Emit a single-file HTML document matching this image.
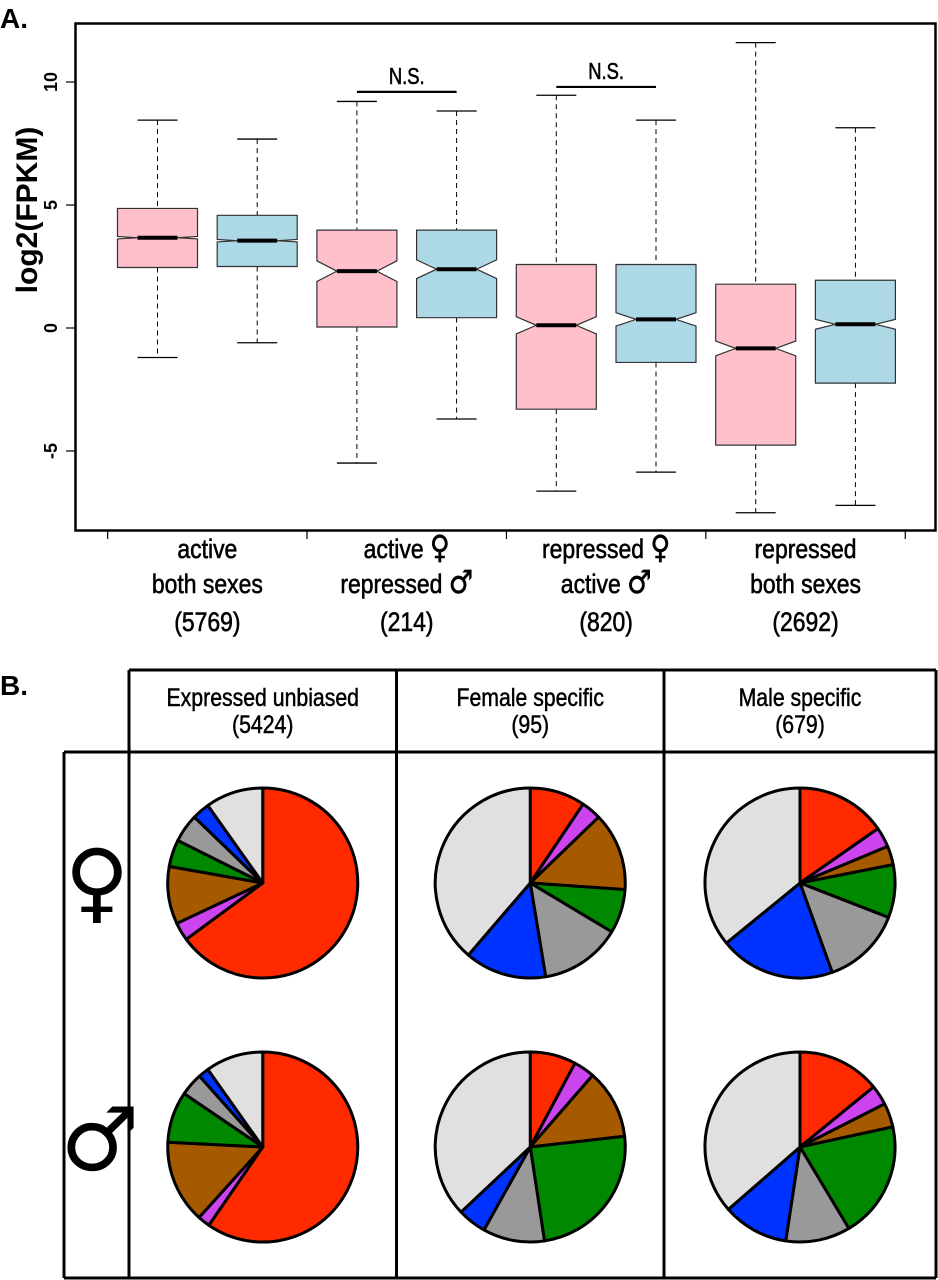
<!DOCTYPE html>
<html><head><meta charset="utf-8">
<style>
html,body{margin:0;padding:0;background:#fff;}
body{width:938px;height:1280px;overflow:hidden;position:relative;font-family:"Liberation Sans",sans-serif;}
svg{position:absolute;left:0;top:0;}
</style></head>
<body>
<svg id="chart" width="938" height="1280" viewBox="0 0 938 1280">
  <text x="0" y="28" font-family="Liberation Sans" font-weight="bold" font-size="28">A.</text>
  <text x="0" y="695" font-family="Liberation Sans" font-weight="bold" font-size="28">B.</text>
  <g id="boxplot"></g>
  <g id="table"></g>
</svg>
<script>
// ---- Boxplot data ----
const boxGroups = ["active|both sexes", "active ♀|repressed ♂", "repressed ♀|active ♂", "repressed|both sexes"];
const groupCounts = ["(5769)", "(214)", "(820)", "(2692)"];
const boxSex = ["female","male","female","male","female","male","female","male"];
const whiskerHigh = [8.45, 7.68, 9.21, 8.82, 9.46, 8.45, 11.6, 8.14];
const q3Values = [4.86, 4.58, 3.98, 3.98, 2.58, 2.58, 1.78, 1.94];
const medianValues = [3.67, 3.55, 2.31, 2.39, 0.11, 0.35, -0.83, 0.15];
const q1Values = [2.46, 2.5, 0.04, 0.42, -3.3, -1.4, -4.76, -2.24];
const whiskerLow = [-1.2, -0.6, -5.49, -3.7, -6.63, -5.86, -7.51, -7.21];
const notchHalf = [0.05, 0.05, 0.42, 0.38, 0.35, 0.27, 0.3, 0.2];
const yTicks = [-5, 0, 5, 10];
const sigPairs = [[3,4],[5,6]];
const sigLabels = ["N.S.","N.S."];
const sigLevels = [9.6, 9.8];

// ---- Pie data (fractions, clockwise from 12 o'clock) ----
const pieCategories = ["c1","c2","c3","c4","c5","c6","c7"];
const pieColumns = ["Expressed unbiased|(5424)", "Female specific|(95)", "Male specific|(679)"];
const pieFemaleUnbiased = [.649,.031,.098,.046,.048,.030,.098];
const pieFemaleFSpecific = [.094,.034,.133,.075,.138,.139,.387];
const pieFemaleMSpecific = [.153,.034,.032,.090,.136,.196,.359];
const pieMaleUnbiased = [.596,.021,.141,.087,.039,.018,.098];
const pieMaleFSpecific = [.078,.036,.118,.244,.105,.049,.370];
const pieMaleMSpecific = [.141,.034,.041,.198,.110,.112,.364];

const NS = "http://www.w3.org/2000/svg";
function mk(tag, attrs, parent){const e=document.createElementNS(NS,tag);for(const k in attrs)e.setAttribute(k,attrs[k]);parent.appendChild(e);return e;}

const yScale = v => 328 - 24.6*v;
const xScale = p => 57.8 + 99.7*p;
const bp = document.getElementById('boxplot');

let fr = mk('rect',{x:75.5,y:23.5,width:860,height:507,fill:'none',stroke:'#000','stroke-width':2.5},bp);



yTicks.forEach(t=>{
  const y=yScale(t);
  let l=mk('line',{x1:66,x2:75.5,y1:y,y2:y,stroke:'#000','stroke-width':1.2},bp);
  
  
  let tx=mk('text',{x:0,y:0,transform:`translate(57,${y}) rotate(-90)`,'text-anchor':'middle','font-family':'Liberation Sans','font-size':18,'font-weight':'bold'},bp);
  tx.textContent=t;
  
  
});
let yl=mk('text',{x:0,y:0,transform:'translate(37,210) rotate(-90)','text-anchor':'middle','font-family':'Liberation Sans','font-size':30,'font-weight':'bold'},bp);
yl.textContent='log2(FPKM)';



for(let i=0;i<=boxGroups.length;i++){
  const x=xScale(0.5+2*i);
  let l=mk('line',{x1:x,x2:x,y1:530,y2:539,stroke:'#000','stroke-width':1.2},bp);
  
  
}
const txtStyle={'font-size':27,stroke:'#000','stroke-width':0.6};
boxGroups.forEach((g,i)=>{
  const cx=xScale(1.5+2*i);
  g.split('|').forEach((ln,j)=>{
    let t=mk('text',Object.assign({x:0,y:0,transform:`translate(${cx},${558+j*35}) scale(0.85,1)`,'text-anchor':'middle'},txtStyle),bp);
    ln.split(/([♀♂])/).forEach(p=>{if(!p)return;const s=mk('tspan',{},t);s.textContent=p;if(p==='♀'||p==='♂'){s.setAttribute('font-family','DejaVu Sans');s.setAttribute('font-size','32');s.setAttribute('font-weight','bold');}});
    
    
  });
  let c=mk('text',Object.assign({x:0,y:0,transform:`translate(${cx},631) scale(0.85,1)`,'text-anchor':'middle'},txtStyle),bp);
  c.textContent=groupCounts[i];
  
  
});

const bw=80;
whiskerHigh.forEach((wh,i)=>{
  const cx=xScale(i+1);
  const g=mk('g',{},bp);
  
  
  const yH=yScale(wh), yL=yScale(whiskerLow[i]), y3=yScale(q3Values[i]), y1=yScale(q1Values[i]), ym=yScale(medianValues[i]);
  const nt=yScale(medianValues[i]+notchHalf[i]), nb=yScale(medianValues[i]-notchHalf[i]);
  mk('line',{x1:cx,x2:cx,y1:yH,y2:y3,stroke:'#000','stroke-width':1,'stroke-dasharray':'5,4'},g);
  mk('line',{x1:cx,x2:cx,y1:y1,y2:yL,stroke:'#000','stroke-width':1,'stroke-dasharray':'5,4'},g);
  mk('line',{x1:cx-bw/4,x2:cx+bw/4,y1:yH,y2:yH,stroke:'#000','stroke-width':1.3},g);
  mk('line',{x1:cx-bw/4,x2:cx+bw/4,y1:yL,y2:yL,stroke:'#000','stroke-width':1.3},g);
  const l=cx-bw/2,r=cx+bw/2,il=cx-bw/4,ir=cx+bw/4;
  const d=`M${l},${y3} L${r},${y3} L${r},${nt} L${ir},${ym} L${r},${nb} L${r},${y1} L${l},${y1} L${l},${nb} L${il},${ym} L${l},${nt} Z`;
  mk('path',{d:d,fill:boxSex[i]==='female'?'#ffc0cb':'#add8e6',stroke:'#333','stroke-width':1.2},g);
  mk('line',{x1:il,x2:ir,y1:ym,y2:ym,stroke:'#000','stroke-width':4},g);
});

sigPairs.forEach((p,i)=>{
  const x1=xScale(p[0]),x2=xScale(p[1]),y=yScale(sigLevels[i]);
  let l=mk('line',{x1:x1,x2:x2,y1:y,y2:y,stroke:'#000','stroke-width':2.2},bp);
  
  
  let t=mk('text',{x:0,y:0,transform:`translate(${(x1+x2)/2},${y-8}) scale(0.8,1)`,'text-anchor':'middle','font-size':23,stroke:'#000','stroke-width':0.6},bp);
  t.textContent=sigLabels[i];
  
  
});

const tb=document.getElementById('table');
const colX=[129,396.5,664,936];
const sw=3;
function ln(x1,y1,x2,y2,name){let l=mk('line',{x1,y1,x2,y2,stroke:'#000','stroke-width':sw},tb);}
ln(129,670,936,670,'table-top-border');
ln(64,752,936,752,'table-header-border');
ln(64,1278,936,1278,'table-bottom-border');
ln(64,752,64,1278,'table-left-border');
colX.forEach(x=>ln(x,670,x,1278,'table-column-border'));
pieColumns.forEach((c,i)=>{
  const cx=(colX[i]+colX[i+1])/2;
  c.split('|').forEach((s,j)=>{
    let t=mk('text',{x:0,y:0,transform:`translate(${cx},${706+j*27}) scale(0.85,1)`,'text-anchor':'middle','font-size':25,stroke:'#000','stroke-width':0.5},tb);
    t.textContent=s;
    
    
  });
});
let fsym=mk('text',{x:97,y:912,'text-anchor':'middle','font-family':'DejaVu Sans','font-size':88,'font-weight':'bold'},tb);
fsym.textContent='♀';


let msym=mk('text',{x:100,y:1170,'text-anchor':'middle','font-family':'DejaVu Sans','font-size':88,'font-weight':'bold'},tb);
msym.textContent='♂';



const pieColors=['#ff2a00','#cc44ee','#a65a00','#008800','#999999','#0033ff','#e0e0e0'];
const pieRows=[[pieFemaleUnbiased,pieFemaleFSpecific,pieFemaleMSpecific],[pieMaleUnbiased,pieMaleFSpecific,pieMaleMSpecific]];
const rowCY=[883,1147];
const R=95;
pieRows.forEach((row,ri)=>{
  row.forEach((vals,ci)=>{
    const cx=(colX[ci]+colX[ci+1])/2, cy=rowCY[ri];
    const g=mk('g',{},tb);
    
    
    const tot=vals.reduce((a,b)=>a+b,0);
    let acc=0;
    vals.forEach((v,k)=>{
      const a0=acc/tot*2*Math.PI; acc+=v; const a1=acc/tot*2*Math.PI;
      const x0=cx+R*Math.sin(a0),y0=cy-R*Math.cos(a0),x1=cx+R*Math.sin(a1),y1=cy-R*Math.cos(a1);
      const large=(a1-a0)>Math.PI?1:0;
      const p=mk('path',{d:`M${cx},${cy} L${x0},${y0} A${R},${R} 0 ${large} 1 ${x1},${y1} Z`,fill:pieColors[k],stroke:'#000','stroke-width':3,'stroke-linejoin':'round'},g);
      
      
    });
  });
});
</script>
</body></html>
